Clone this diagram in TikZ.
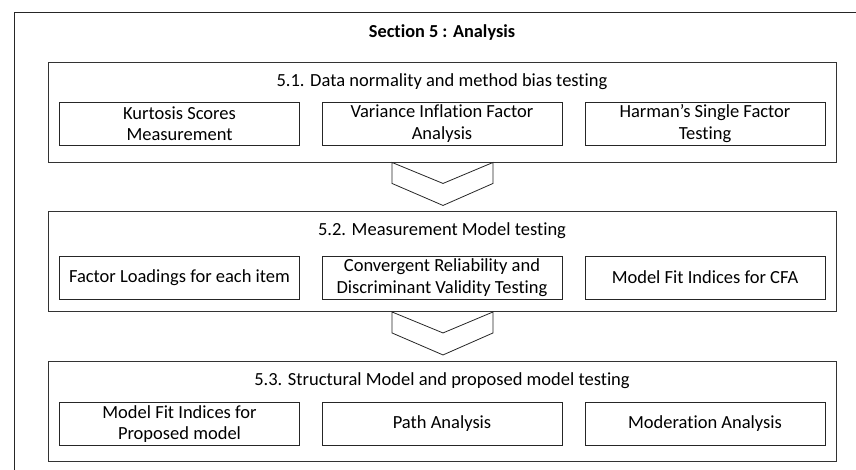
\documentclass[tikz,border=0pt]{standalone}
\usepackage{fontspec}
\setmainfont[Ligatures=NoCommon]{Carlito}
\begin{document}
\begin{tikzpicture}[x=1pt,y=-1pt,
  section/.style={draw=black!80,line width=0.9pt,minimum width=788pt,minimum height=100pt,inner sep=0pt},
  item/.style={draw=black!85,line width=0.8pt,minimum width=240pt,minimum height=43pt,inner sep=0pt,align=center,font=\fontsize{18.5}{21.5}\selectfont},
  heading/.style={font=\fontsize{18.5}{22}\selectfont}]
\useasboundingbox (0,0) rectangle (856,470);
\clip (0,0) rectangle (856,470);
\draw[line width=0.9pt,black!85] (14,12) rectangle (870,480);
\node[font=\bfseries\fontsize{18.3}{22}\selectfont] (title) at (442,33) {Section 5 : Analysis};

% 5.1
\node[section] (s1) at (442,112) {};
\node[heading] (t1) at (442,82) {5.1. Data normality and method bias testing};
\node[item] (kurt) at (179.5,123.5) {Kurtosis Scores\\Measurement};
\node[item] (vif) at (442,123.5) {Variance Inflation Factor\\Analysis};
\node[item] (harman) at (705,123.5) {Harman’s Single Factor\\Testing};

% 5.2
\node[section] (s2) at (442,261.5) {};
\node[heading] (t2) at (442,231) {5.2. Measurement Model testing};
\node[item] (loads) at (179.5,277.5) {Factor Loadings for each item};
\node[item] (conv) at (442,277.5) {Convergent Reliability and\\Discriminant Validity Testing};
\node[item] (cfa) at (705,277.5) {Model Fit Indices for CFA};

% 5.3
\node[section] (s3) at (442,411) {};
\node[heading] (t3) at (442,381) {5.3. Structural Model and proposed model testing};
\node[item] (fit) at (179.5,424) {Model Fit Indices for\\Proposed model};
\node[item] (path) at (442,424) {Path Analysis};
\node[item] (moder) at (705,424) {Moderation Analysis};

\foreach \s in {s1,s2}
  \draw[line width=0.8pt,black!85] ([xshift=-50pt]\s.south) -- ++(51,21) -- ++(50,-21) -- ++(0,21) -- ++(-50,22) -- ++(-51,-22) -- cycle;

\end{tikzpicture}
\end{document}
